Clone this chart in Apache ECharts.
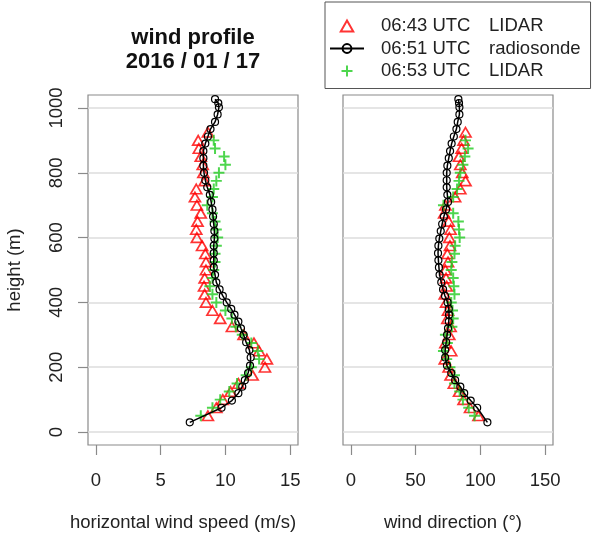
<!DOCTYPE html>
<html>
<head>
<meta charset="utf-8">
<script src="https://cdn.jsdelivr.net/npm/echarts@6/dist/echarts.min.js"></script>
<style>html,body{margin:0;padding:0;background:#fff}#c{width:597px;height:540px}</style>
</head>
<body>
<div id="c"></div>
<script>
// ---- data ----
const titleLines = ['wind profile', '2016 / 01 / 17'];
const legendTimes = ['06:43 UTC', '06:51 UTC', '06:53 UTC'];
const legendSources = ['LIDAR', 'radiosonde', 'LIDAR'];
const speedTicks = [0, 5, 10, 15];
const dirTicks = [0, 50, 100, 150];
const heightTicks = [0, 200, 400, 600, 800, 1000];

const sondeHeight = [30,75,97,120,140,160,182,205,230,253,277,300,320,341,362,380,400,420,440,462,485,508,530,552,575,597,620,642,665,687,710,732,755,777,800,822,845,867,890,912,935,957,980,1002,1015,1027];
const sondeSpeed = [7.25,9.7,10.5,11.0,11.3,11.5,11.75,11.9,11.95,11.85,11.6,11.4,11.2,11.0,10.7,10.45,10.1,9.8,9.55,9.3,9.2,9.1,9.1,9.1,9.1,9.15,9.15,9.1,9.05,9.0,8.9,8.8,8.6,8.45,8.35,8.3,8.3,8.3,8.45,8.65,8.85,9.2,9.4,9.5,9.45,9.2];
const sondeDir = [105.4,97.5,92.5,87.5,84.5,80.5,77.5,74.2,72.8,72.8,73.6,74.3,75.0,75.6,75.8,75.6,74.7,72.7,71.2,69.8,68.5,68.0,67.6,67.3,67.6,68.3,69.4,70.5,71.8,73.5,75.0,74.5,74.0,74.0,74.0,74.5,75.6,76.6,77.8,79.5,81.5,82.5,83.8,83.8,83.5,83.0];

const lidar1Height = [50,75,100,125,150,175,200,225,250,275,300,325,350,375,400,425,450,475,500,525,550,575,600,625,650,675,700,725,750,775,800,825,850,875,900,925];
const lidar1Speed = [8.65,9.3,9.8,10.4,11.0,12.1,13.05,13.2,12.6,12.2,11.4,10.5,9.6,9.0,8.5,8.4,8.35,8.4,8.5,8.5,8.45,8.2,7.8,7.75,7.85,8.1,7.8,7.65,7.75,8.4,8.3,8.25,8.1,7.95,7.9,8.65];
const lidar1Dir = [98.5,92.0,87.0,83.5,79.5,77.0,75.5,72.5,77.5,73.0,76.0,77.0,74.5,75.0,73.5,72.5,74.0,73.5,73.0,75.0,74.5,76.5,76.0,77.0,75.5,72.0,73.0,80.5,84.5,88.5,86.0,84.5,83.5,85.5,87.0,88.5];

const lidar2Height = [50,75,100,125,150,175,200,225,250,275,300,325,350,375,400,425,450,475,500,525,550,575,600,625,650,675,700,725,750,775,800,825,850,875,900];
const lidar2Speed = [8.1,9.0,9.6,10.3,10.9,11.6,12.0,12.6,12.5,12.0,11.3,10.8,10.5,10.0,9.3,9.0,8.8,9.0,9.1,9.2,9.2,9.3,9.4,9.3,9.2,9.0,8.6,9.0,9.1,9.3,9.5,10.0,9.9,9.2,9.1];
const lidar2Dir = [95.5,91.0,86.5,84.0,80.0,80.0,76.5,74.0,71.5,74.5,73.0,78.0,79.0,78.5,77.5,80.0,79.5,79.0,77.5,78.0,80.0,80.5,84.0,83.5,83.0,79.0,71.5,79.0,82.0,83.5,84.5,86.5,88.0,90.5,88.5];

// ---- chart ----
const FONT = 'Liberation Sans, Arial, sans-serif';
const TXT = '#222';
const BOX = '#8a8a8a';
const RED = '#ff0000';
const GREEN = '#22cc22';
const PLUS = 'path://M41,0H59V41H100V59H59V100H41V59H0V41H41Z';
const TRI = 'path://M50,0L100,88L0,88Z';
const names = legendTimes.map((t, i) => t + ' ' + legendSources[i]);
const pairs = (xs, ys) => xs.map((x, i) => [x, ys[i]]);

function makeSeries(g) {
  const xsS = g === 0 ? sondeSpeed : sondeDir;
  const xs1 = g === 0 ? lidar1Speed : lidar1Dir;
  const xs2 = g === 0 ? lidar2Speed : lidar2Dir;
  return [
    {name: names[0], type: 'scatter', xAxisIndex: g, yAxisIndex: g, clip: false,
     data: pairs(xs1, lidar1Height), symbol: TRI, symbolSize: [11, 9.5],
     itemStyle: {color: 'rgba(255,255,255,0)', borderColor: RED, borderWidth: 1.7}},
    {name: names[1], type: 'line', xAxisIndex: g, yAxisIndex: g, clip: false,
     data: pairs(xsS, sondeHeight), symbol: 'circle', symbolSize: 7, showSymbol: true,
     lineStyle: {color: '#000', width: 1.5},
     itemStyle: {color: 'rgba(255,255,255,0)', borderColor: '#000', borderWidth: 1.2}},
    {name: names[2], type: 'scatter', xAxisIndex: g, yAxisIndex: g, clip: false,
     data: pairs(xs2, lidar2Height), symbol: PLUS, symbolSize: 11,
     itemStyle: {color: GREEN}}
  ];
}

function xAx(g, ticks, min, max, name, pad) {
  return {gridIndex: g, type: 'value', min: min, max: max,
    axisLine: {show: false, onZero: false},
    axisTick: {show: true, inside: false, customValues: ticks, length: 10, lineStyle: {color: BOX, width: 1.2}},
    axisLabel: {customValues: ticks, margin: 26, fontSize: 18.5, color: TXT, fontFamily: FONT,
      formatter: v => String(v)},
    splitLine: {show: false},
    name: name, nameLocation: 'middle', nameGap: 68,
    nameTextStyle: {fontSize: 18.5, color: TXT, fontFamily: FONT, padding: pad}};
}
function yAx(g, showAxis) {
  return {gridIndex: g, type: 'value', min: -40, max: 1040,
    axisLine: {show: false, onZero: false},
    axisTick: {show: showAxis, inside: false, customValues: heightTicks, length: 10, lineStyle: {color: BOX, width: 1.2}},
    axisLabel: {show: showAxis, customValues: heightTicks, rotate: 90, margin: 22, fontSize: 18.5, color: TXT, fontFamily: FONT,
      formatter: v => String(v)},
    splitLine: {show: true, lineStyle: {color: '#dcdcdc', width: 1.5}},
    name: showAxis ? 'height (m)' : '', nameLocation: 'middle', nameRotate: 90, nameGap: 64,
    nameTextStyle: {fontSize: 18.5, color: TXT, fontFamily: FONT}};
}

const chart = echarts.init(document.getElementById('c'), null, {renderer: 'canvas'});
chart.setOption({
  animation: false,
  backgroundColor: '#fff',
  textStyle: {fontFamily: FONT},
  grid: [
    {left: 88, top: 95, width: 210, height: 350, show: true, borderColor: BOX, borderWidth: 1.2, backgroundColor: 'transparent', containLabel: false, outerBoundsMode: 'none'},
    {left: 343, top: 95, width: 210, height: 350, show: true, borderColor: BOX, borderWidth: 1.2, backgroundColor: 'transparent', containLabel: false, outerBoundsMode: 'none'}
  ],
  xAxis: [
    xAx(0, speedTicks, -0.6, 15.6, 'horizontal wind speed (m/s)', [0, 20, 0, 0]),
    xAx(1, dirTicks, -6, 156, 'wind direction (°)', [0, 0, 0, 10])
  ],
  yAxis: [yAx(0, true), yAx(1, false)],
  legend: {
    orient: 'vertical', left: 325, top: 2,
    padding: [14.5, 10, 8, 4],
    borderColor: '#555', borderWidth: 1, borderRadius: 0,
    backgroundColor: '#fff',
    itemWidth: 34, itemHeight: 11, itemGap: 3.5, symbolKeepAspect: true,
    data: names,
    formatter: function (n) {
      const i = names.indexOf(n);
      return '{t|' + legendTimes[i] + '}{s|' + legendSources[i] + '}';
    },
    textStyle: {fontSize: 18.5, color: TXT, fontFamily: FONT, lineHeight: 19,
      rich: {t: {fontSize: 18.5, color: TXT, fontFamily: FONT, width: 108, padding: [0, 0, 0, 12]},
             s: {fontSize: 18.5, color: TXT, fontFamily: FONT}}}
  },
  graphic: [
    {type: 'text', x: 193, y: 38, style: {text: titleLines[0], font: 'bold 22px ' + FONT, fill: '#111', align: 'center', verticalAlign: 'middle'}},
    {type: 'text', x: 193, y: 62, style: {text: titleLines[1], font: 'bold 22px ' + FONT, fill: '#111', align: 'center', verticalAlign: 'middle'}}
  ],
  series: makeSeries(0).concat(makeSeries(1))
});
</script>
</body>
</html>
